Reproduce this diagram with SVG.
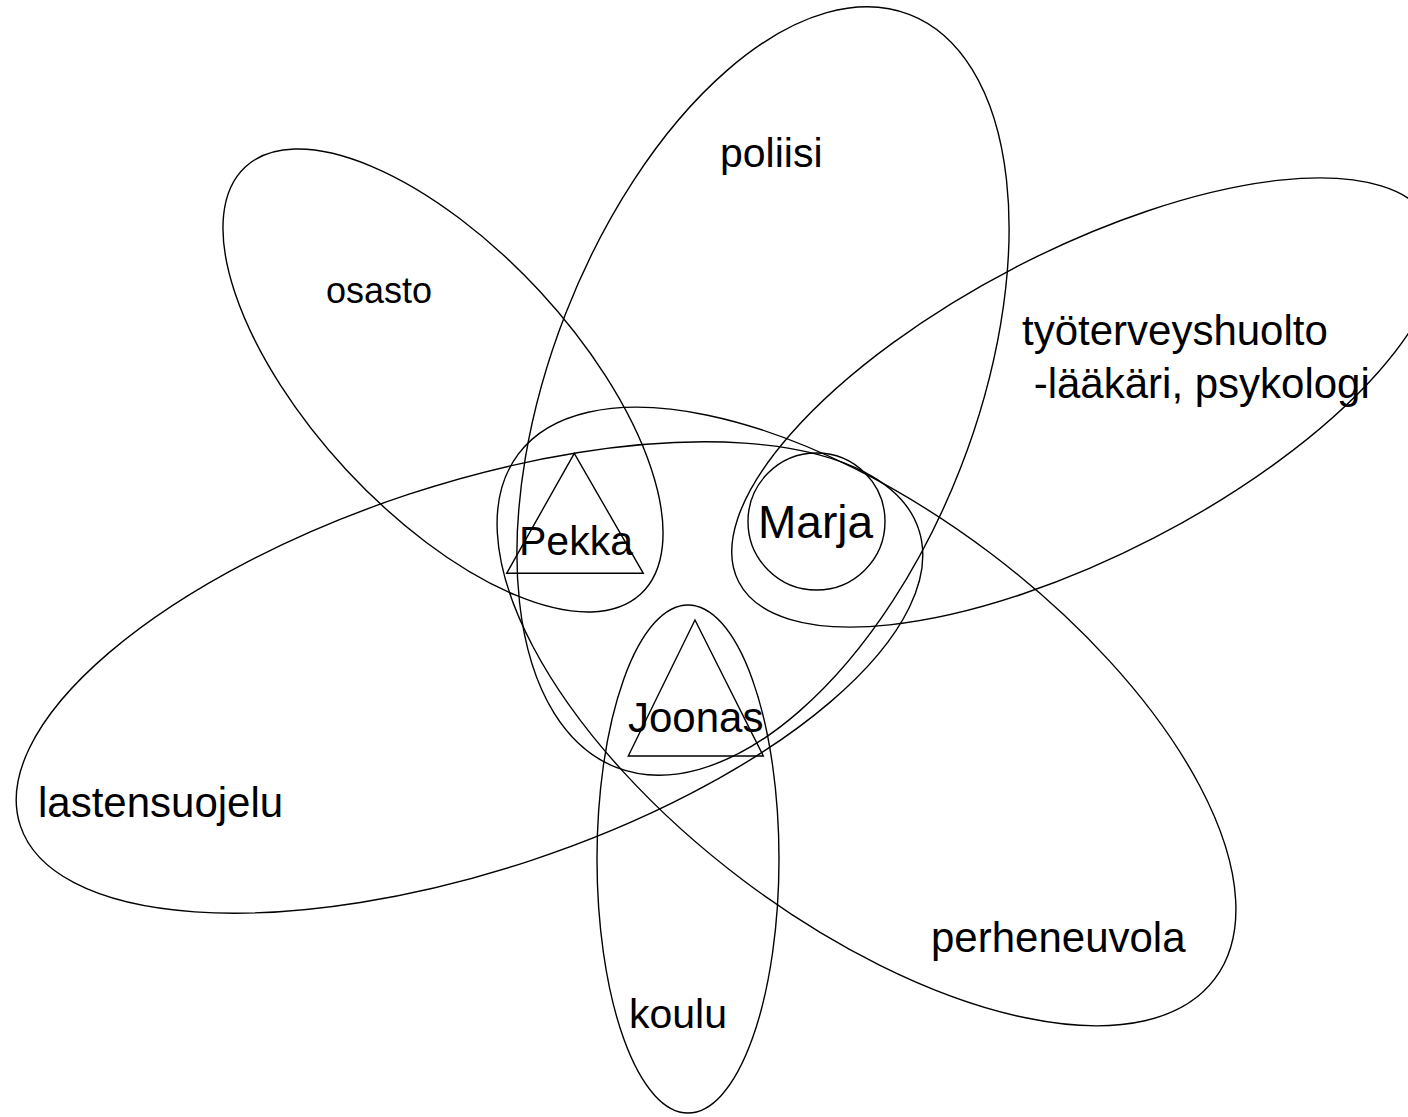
<svg xmlns="http://www.w3.org/2000/svg" width="1408" height="1117" viewBox="0 0 1408 1117">
<style>
.s{fill:none;stroke:#000;stroke-width:1.4}
.t{font-family:"Liberation Sans",Arial,sans-serif;fill:#000}
</style>
<rect width="1408" height="1117" fill="#fff"/>
<g id="osasto">
<ellipse class="s" cx="443" cy="380.5" rx="291" ry="131.6" transform="rotate(47.2 443 380.5)"/>
<text class="t" x="326" y="303" font-size="36">osasto</text>
</g>
<g id="poliisi">
<ellipse class="s" cx="763" cy="391" rx="404" ry="212" transform="rotate(-68.7 763 391)"/>
<text class="t" x="720" y="167" font-size="41">poliisi</text>
</g>
<g id="tyoterveyshuolto">
<ellipse class="s" cx="1085" cy="402.5" rx="390" ry="152" transform="rotate(-27.4 1085 402.5)"/>
<text class="t" font-size="42"><tspan x="1022" y="345">työterveyshuolto</tspan><tspan x="1022" y="398" xml:space="preserve"> -lääkäri, psykologi</tspan></text>
</g>
<g id="lastensuojelu">
<ellipse class="s" cx="469.5" cy="677.5" rx="473" ry="193" transform="rotate(-18.25 469.5 677.5)"/>
<text class="t" x="38" y="817" font-size="42">lastensuojelu</text>
</g>
<g id="perheneuvola">
<ellipse class="s" cx="866.5" cy="716.5" rx="436" ry="205" transform="rotate(37 866.5 716.5)"/>
<text class="t" x="931" y="952" font-size="42">perheneuvola</text>
</g>
<g id="koulu">
<ellipse class="s" cx="688" cy="859" rx="91" ry="254"/>
<text class="t" x="629" y="1028" font-size="41">koulu</text>
</g>
<g id="Marja">
<circle class="s" cx="816.5" cy="521.5" r="68.5"/>
<text class="t" x="758" y="538" font-size="46">Marja</text>
</g>
<g id="Pekka">
<polygon class="s" points="574.3,453.3 506.7,573.3 643.3,573.3"/>
<text class="t" x="519" y="555" font-size="41">Pekka</text>
</g>
<g id="Joonas">
<polygon class="s" points="695,620 628.3,756 763.3,756"/>
<text class="t" x="628" y="732" font-size="42">Joonas</text>
</g>
<g id="connectors"/>
</svg>
